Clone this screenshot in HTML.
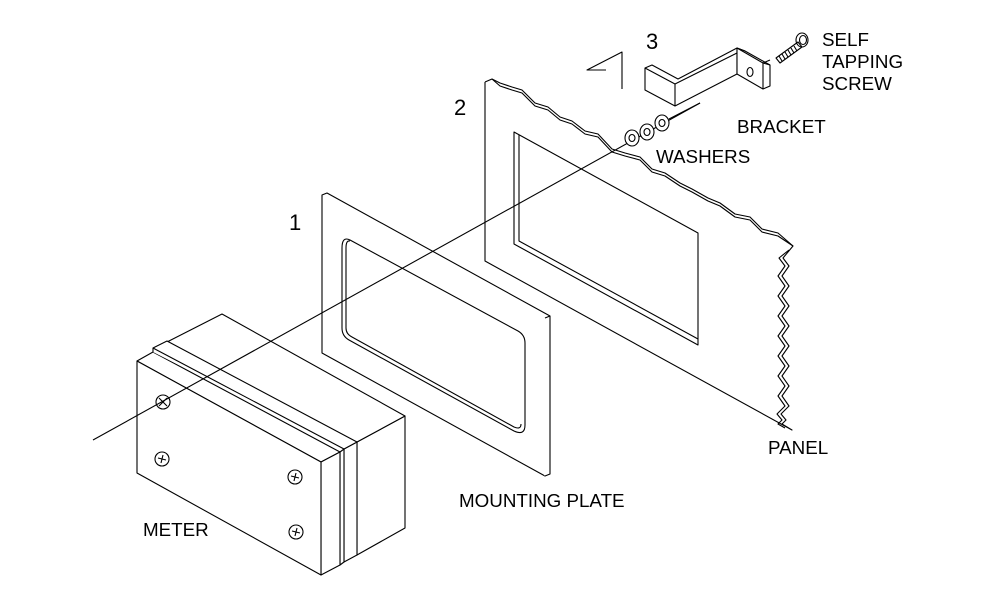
<!DOCTYPE html>
<html><head><meta charset="utf-8"><style>
html,body{margin:0;padding:0;background:#fff;}
svg{display:block}
text{font-family:"Liberation Sans",sans-serif;fill:#000}
</style></head><body>
<svg width="1000" height="600" viewBox="0 0 1000 600" xmlns="http://www.w3.org/2000/svg">
<g fill="none" stroke="#000" stroke-width="1.1" stroke-linejoin="round">
<!-- PANEL -->
<polyline fill="#fff" points="485,82 492,79 500,86 512,90 522,93 535,106 548,110 560,120 572,124 585,134 598,137 612,152 625,156 640,160 652,172 665,176 680,186 692,192 708,201 720,206 735,217 750,220 762,232 778,236 793,246 783,258 789,266 782,276 789,286 782,296 789,306 782,316 789,326 782,336 789,346 782,356 789,366 782,376 789,386 782,396 789,406 781,414 786,420 782,424 792,430 485,261 485,82"/>
<polyline points="492,79 500,83 512,87 522,90 535,103 548,107 560,117 572,121 585,131 598,134 612,149 625,153 640,157 652,169 665,173 680,183 692,189 708,198 720,203 735,214 750,217 762,229 778,233 793,246"/>
<polyline points="789,250 779,258 785,266 778,276 785,286 778,296 785,306 778,316 785,326 778,336 785,346 778,356 785,366 778,376 785,386 778,396 785,406 777,414 782,420 778,424 785,428"/>
<polygon points="514,132 698,233 698,345 514,244"/>
<polyline points="519,135 519,241 698,339"/>
<!-- MOUNTING PLATE -->
<polygon fill="#fff" points="322,195 545,318 545,476 322,353"/>
<polyline fill="#fff" points="322,195 327,193 550,316 550,474 545,476"/>
<line x1="545" y1="318" x2="550" y2="316"/>
<path d="M350,240 L518,331 Q525,335 525,343 L525,425 Q525,436 514,431 L349,340 Q342,336 342,328 L342,248 Q342,236 350,240 Z"/>
<path d="M350,241 Q346,240 346,248 L346,328 Q346,334 352,337 L514,427 Q521,430 521,424"/>
<!-- METER -->
<polygon fill="#fff" points="357,442 405,416 405,528 357,555"/>
<polyline fill="#fff" points="167,342 222,314 405,416 357,442"/>
<polygon fill="#fff" points="344,449 357,442 357,555 344,562"/>
<polygon fill="#fff" points="340,452 344,449 344,562 340,565"/>
<polygon fill="#fff" points="137,361 153,352 340,452 321,462"/>
<polyline fill="#fff" points="153,352 153,348 167,341 357,442 344,449"/>
<line x1="153" y1="348" x2="344" y2="449"/>
<polygon fill="#fff" points="321,462 340,452 340,565 321,575"/>
<polygon fill="#fff" points="137,361 321,462 321,575 137,473"/>
<!-- axis line -->
<line x1="93" y1="440" x2="700" y2="103"/>
<!-- screws on meter -->
<g>
<circle cx="163" cy="402" r="7"/><path d="M159,398 L167,406 M167,398 L159,406"/>
<circle cx="162" cy="459" r="7"/><path d="M158,458 L166,460 M163,455 L161,463"/>
<circle cx="295" cy="477" r="7"/><path d="M291,476 L299,478 M296,473 L294,481"/>
<circle cx="296" cy="532" r="7"/><path d="M292,531 L300,533 M297,528 L295,536"/>
</g>
<!-- washers -->
<g fill="#fff">
<ellipse cx="632" cy="138" rx="7" ry="8"/><ellipse cx="632" cy="138" rx="3" ry="3.5"/>
<ellipse cx="647" cy="132" rx="7" ry="8"/><ellipse cx="647" cy="132" rx="3" ry="3.5"/>
<ellipse cx="662" cy="123" rx="7" ry="8"/><ellipse cx="662" cy="123" rx="3" ry="3.5"/>
</g>
<line x1="669" y1="119" x2="700" y2="103"/>
<!-- arrow -->
<polyline points="622,89 622,52 587,70 606,70"/>
<!-- BRACKET -->
<polygon fill="#fff" points="645,68 675,84 675,106 645,90"/>
<polyline points="645,68 652,65 678,79 737,48 745,51"/>
<line x1="675" y1="84" x2="737" y2="53"/>
<line x1="675" y1="106" x2="737" y2="74"/>
<line x1="737" y1="48" x2="737" y2="74"/>
<polygon fill="#fff" points="737,48 745,51 770,65 770,86 763,89 737,74"/>
<polyline points="737,48 763,63 770,60"/>
<line x1="763" y1="63" x2="763" y2="89"/>
<line x1="763" y1="63" x2="770" y2="65"/>
<ellipse cx="750" cy="72" rx="3" ry="4.5"/>
<!-- screw -->
<g>
<path d="M776,58 L798,42 L802,47 L780,63 Z"/>
<path d="M779,56 l3,5 M782,54 l3,5 M785,52 l3,5 M788,50 l3,5 M791,48 l3,5 M794,46 l3,5"/>
<ellipse cx="802" cy="40" rx="6" ry="7"/>
<ellipse cx="803" cy="40" rx="3.5" ry="4.5"/>
</g>
</g>
<g font-size="18.8">
<text x="289" y="230" font-size="22">1</text>
<text x="454" y="115" font-size="22">2</text>
<text x="646" y="49" font-size="22">3</text>
<text x="822" y="46">SELF</text>
<text x="822" y="68">TAPPING</text>
<text x="822" y="90">SCREW</text>
<text x="737" y="133">BRACKET</text>
<text x="656" y="163">WASHERS</text>
<text x="768" y="454">PANEL</text>
<text x="459" y="507">MOUNTING PLATE</text>
<text x="143" y="536">METER</text>
</g>
</svg>
</body></html>
